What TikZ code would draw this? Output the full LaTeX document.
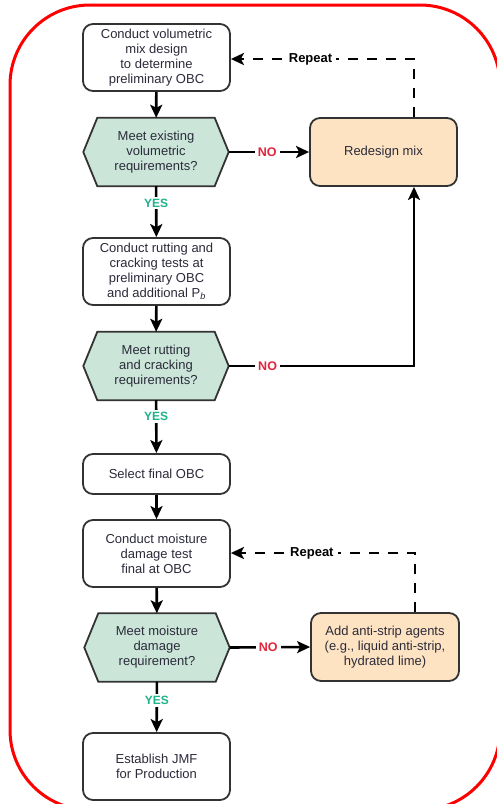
\documentclass[tikz,border=0pt]{standalone}
\usepackage{fontspec}
\setmainfont{Liberation Sans}
\usetikzlibrary{arrows.meta}
\pgfdeclarelayer{bg}
\pgfsetlayers{bg,main}
\definecolor{txt}{HTML}{2B2B3A}
\definecolor{hexfill}{HTML}{CBE6D9}
\definecolor{peach}{HTML}{FDE3C2}
\definecolor{yesc}{HTML}{1FB38A}
\definecolor{noc}{HTML}{E3243B}
\definecolor{edge}{HTML}{333333}
\definecolor{frame}{HTML}{FF0000}
\tikzset{
  base/.style={align=center, text=txt, font=\fontsize{13}{15}\selectfont, inner sep=0pt},
  procbox/.style={base, draw=edge, line width=1.8pt, rounded corners=10pt, fill=white,
     minimum width=147pt, minimum height=67pt},
  altbox/.style={procbox, fill=peach},
  hexa/.style={base, minimum width=145pt, minimum height=68pt},
  arr/.style={line width=2.6pt, -{Stealth[length=13pt,width=12pt,inset=3pt]}},
  dashedarr/.style={arr, dash pattern=on 10pt off 9pt},
  yeslab/.style={fill=white, text=yesc, font=\bfseries\fontsize{12}{14}\selectfont, inner sep=2pt},
  nolab/.style={fill=white, text=noc, font=\bfseries\fontsize{12.5}{14}\selectfont, inner sep=3pt},
  replab/.style={fill=white, text=black, font=\bfseries\fontsize{13}{14}\selectfont, inner sep=4pt},
}
\newcommand{\hexdraw}[1]{%
  \begin{pgfonlayer}{bg}
  \filldraw[fill=hexfill, draw=edge, line width=1.8pt, line join=miter]
    (#1.west) -- ([xshift=14pt]#1.north west) -- ([xshift=-14pt]#1.north east)
    -- (#1.east) -- ([xshift=-14pt]#1.south east) -- ([xshift=14pt]#1.south west) -- cycle;
  \end{pgfonlayer}}
\begin{document}
\begin{tikzpicture}[x=1pt,y=-1pt]
\useasboundingbox (0,0) rectangle (497,804);
\clip (0,0) rectangle (497,804);
\begin{pgfonlayer}{bg}
\fill[white] (0,0) rectangle (497,804);
\end{pgfonlayer}
\draw[frame, line width=3pt, rounded corners=80pt] (10,5) rectangle (500,810);

\node[procbox] (b1) at (156.5,57.5) {Conduct volumetric\\mix design\\to determine\\preliminary OBC};
\node[hexa] (h1) at (156,152) {Meet existing\\volumetric\\requirements?};
\hexdraw{h1}
\node[altbox, minimum height=68pt] (r1) at (383.5,152) {Redesign mix};
\node[procbox] (b2) at (156.5,271.5) {Conduct rutting and\\cracking tests at\\preliminary OBC\\and additional P\textsubscript{\textit{b}}};
\node[hexa] (h2) at (156,366) {Meet rutting\\and cracking\\requirements?};
\hexdraw{h2}
\node[procbox, minimum height=40pt] (b3) at (156.5,474) {Select final OBC};
\node[procbox] (b4) at (156.5,553.5) {Conduct moisture\\damage test\\final at OBC};
\node[hexa] (h3) at (157,647.5) {Meet moisture\\damage\\requirement?};
\hexdraw{h3}
\node[altbox, minimum width=148pt, minimum height=68pt] (a1) at (385,647) {Add anti-strip agents\\(e.g., liquid anti-strip,\\hydrated lime)};
\node[procbox] (b5) at (156.5,766.5) {Establish JMF\\for Production};

\coordinate (c1) at (414,59);
\coordinate (c2) at (414,366);
\coordinate (c3) at (415,553);

\draw[arr] (b1) -- (h1);
\draw[arr] (h1) -- node[yeslab, pos=0.33] {YES} (b2);
\draw[arr] (h1.east) -- node[nolab, pos=0.48] {NO} (r1.west);
\draw[dashedarr] (r1.north -| c1) -- (c1) -- node[replab, pos=0.565] {Repeat} (c1 -| b1.east);
\draw[arr] (b2) -- (h2);
\draw[arr] (h2.east) -- node[nolab, pos=0.21] {NO} (c2) -- (r1.south -| c2);
\draw[arr] (h2) -- node[yeslab, pos=0.31] {YES} (b3);
\draw[arr] (b3) -- (b4);
\draw[arr] (b4) -- (h3);
\draw[arr] (h3.east) -- node[nolab, pos=0.48] {NO} (a1.west);
\draw[dashedarr] (a1.north -| c3) -- (c3) -- node[replab, pos=0.56] {Repeat} (c3 -| b4.east);
\draw[arr] (h3) -- node[yeslab, pos=0.37] {YES} (b5);
\end{tikzpicture}
\end{document}
